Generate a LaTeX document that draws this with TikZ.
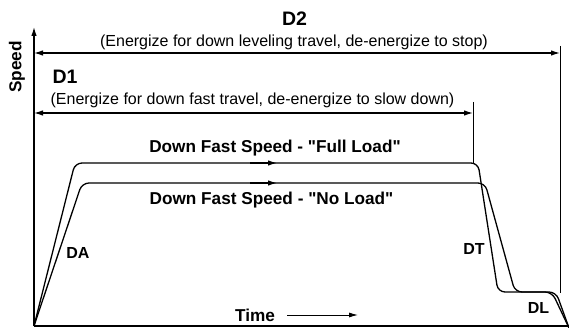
\documentclass[tikz,border=0pt]{standalone}
\usepackage{fontspec}
\setmainfont{Liberation Sans}
\usetikzlibrary{arrows.meta}
\begin{document}
\begin{tikzpicture}[x=1pt,y=-1pt,
  line width=1.2pt,
  tip/.style={-{Latex[length=9pt,width=5.5pt]}},
  dtip/.style={{Latex[length=9pt,width=5.5pt]}-{Latex[length=9pt,width=5.5pt]}},
  big/.style={font=\fontsize{19.5}{20}\selectfont\bfseries},
  sub/.style={font=\fontsize{16}{17}\selectfont},
  lbl/.style={font=\fontsize{17.2}{18}\selectfont\bfseries},
  dlbl/.style={font=\fontsize{16}{17}\selectfont\bfseries},
  curve/.style={line width=1.3pt, rounded corners=7pt}]
\useasboundingbox (0,0) rectangle (569,328);
% axes
\coordinate (O) at (34,326);
\coordinate (Ytop) at (34,27);
\coordinate (Xend) at (569,326);
\draw[tip] (O) -- (Ytop);
\draw (O) -- (Xend);
\node[lbl, rotate=90] (speed) at (17,67) {Speed};
% D2
\coordinate (d2l) at (34,53);
\coordinate (d2r) at (560,53);
\draw[dtip] (d2l) -- (d2r);
\draw[line width=0.8pt] (560,46) -- (560,293);
\node[big] (D2) at (294.5,19) {D2};
\node[sub] (D2t) at (294,42) {(Energize for down leveling travel, de-energize to stop)};
% D1
\coordinate (d1l) at (34,113);
\coordinate (d1r) at (473,113);
\draw[dtip] (d1l) -- (d1r);
\draw[line width=0.8pt] (473,102) -- (473,163);
\node[big] (D1) at (65,77) {D1};
\node[sub] (D1t) at (252.5,100) {(Energize for down fast travel, de-energize to slow down)};
% curves
\draw[curve] (O) -- (75,163) -- (478,163) -- (498,292) -- (552,292) -- (569,328);
\draw[curve] (O) -- (82,183) -- (485,183) -- (515,292) -- (556,292) -- (569,328);
\draw[-{Latex[length=9pt,width=5.5pt]}] (250,163) -- (277,163);
\draw[-{Latex[length=9pt,width=5.5pt]}] (250,183) -- (277,183);
\node[lbl] (full) at (275,148) {Down Fast Speed - \textquotedbl Full Load\textquotedbl};
\node[lbl] (none) at (271.5,200) {Down Fast Speed - \textquotedbl No Load\textquotedbl};
\node[dlbl] (DA) at (78,252.5) {DA};
\node[dlbl] (DT) at (474,249) {DT};
\node[dlbl] (DL) at (538.5,307.5) {DL};
\node[lbl] (time) at (255,315) {Time};
\coordinate (ta) at (287,315);
\coordinate (tb) at (358,315);
\draw[line width=0.9pt, -{Latex[length=9pt,width=5pt]}] (ta) -- (tb);
\end{tikzpicture}
\end{document}
